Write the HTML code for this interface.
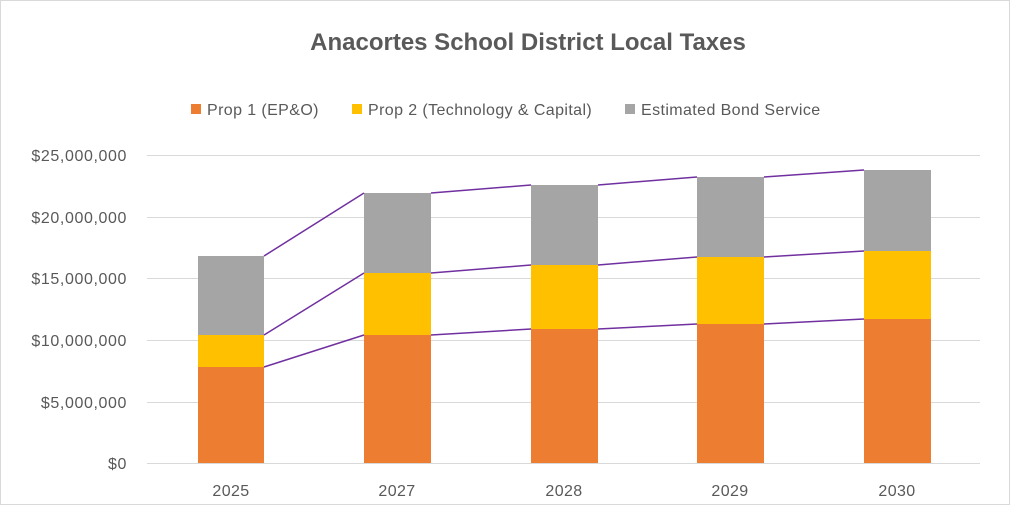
<!DOCTYPE html>
<html><head><meta charset="utf-8"><style>
html,body{margin:0;padding:0;background:#fff}
svg{display:block}
text{font-family:"Liberation Sans",sans-serif;fill:#595959}
</style></head><body>
<svg width="1010" height="505" viewBox="0 0 1010 505">
<rect x="0.5" y="0.5" width="1009" height="504" fill="#fff" stroke="#d9d9d9"/>
<text x="528" y="50" font-size="24" font-weight="bold" text-anchor="middle">Anacortes School District Local Taxes</text>
<g font-size="16" letter-spacing="0.4">
<rect x="191" y="104" width="10" height="10" fill="#ED7D31"/><text x="207" y="115">Prop 1 (EP&amp;O)</text>
<rect x="352" y="104" width="10" height="10" fill="#FFC000"/><text x="368" y="115">Prop 2 (Technology &amp; Capital)</text>
<rect x="625" y="104" width="10" height="10" fill="#A5A5A5"/><text x="641" y="115">Estimated Bond Service</text>
</g>
<g stroke="#d9d9d9" stroke-width="1">
<line x1="147" y1="155.5" x2="980" y2="155.5"/>
<line x1="147" y1="217.5" x2="980" y2="217.5"/>
<line x1="147" y1="278.5" x2="980" y2="278.5"/>
<line x1="147" y1="340.5" x2="980" y2="340.5"/>
<line x1="147" y1="402.5" x2="980" y2="402.5"/>
<line x1="147" y1="463.5" x2="980" y2="463.5"/>
</g>
<g font-size="16" letter-spacing="0.6" text-anchor="end">
<text x="127" y="161">$25,000,000</text>
<text x="127" y="223">$20,000,000</text>
<text x="127" y="284">$15,000,000</text>
<text x="127" y="346">$10,000,000</text>
<text x="127" y="408">$5,000,000</text>
<text x="127" y="469">$0</text>
</g>
<g>
<rect x="198" y="367" width="66" height="96" fill="#ED7D31"/><rect x="198" y="335" width="66" height="32" fill="#FFC000"/><rect x="198" y="256" width="66" height="79" fill="#A5A5A5"/>
<rect x="364" y="335" width="67" height="128" fill="#ED7D31"/><rect x="364" y="273" width="67" height="62" fill="#FFC000"/><rect x="364" y="193" width="67" height="80" fill="#A5A5A5"/>
<rect x="531" y="329" width="67" height="134" fill="#ED7D31"/><rect x="531" y="265" width="67" height="64" fill="#FFC000"/><rect x="531" y="185" width="67" height="80" fill="#A5A5A5"/>
<rect x="697" y="324" width="67" height="139" fill="#ED7D31"/><rect x="697" y="257" width="67" height="67" fill="#FFC000"/><rect x="697" y="177" width="67" height="80" fill="#A5A5A5"/>
<rect x="864" y="319" width="67" height="144" fill="#ED7D31"/><rect x="864" y="251" width="67" height="68" fill="#FFC000"/><rect x="864" y="170" width="67" height="81" fill="#A5A5A5"/>
</g>
<g stroke="#7030A0" stroke-width="1.5" fill="none">
<line x1="264" y1="367" x2="364" y2="335"/><line x1="431" y1="335" x2="531" y2="329"/><line x1="598" y1="329" x2="697" y2="324"/><line x1="764" y1="324" x2="864" y2="319"/>
<line x1="264" y1="335" x2="364" y2="273"/><line x1="431" y1="273" x2="531" y2="265"/><line x1="598" y1="265" x2="697" y2="257"/><line x1="764" y1="257" x2="864" y2="251"/>
<line x1="264" y1="256" x2="364" y2="193"/><line x1="431" y1="193" x2="531" y2="185"/><line x1="598" y1="185" x2="697" y2="177"/><line x1="764" y1="177" x2="864" y2="170"/>
</g>
<g font-size="16" letter-spacing="0.4" text-anchor="middle">
<text x="231" y="496">2025</text>
<text x="397" y="496">2027</text>
<text x="564" y="496">2028</text>
<text x="730" y="496">2029</text>
<text x="897" y="496">2030</text>
</g>
</svg>
</body></html>
